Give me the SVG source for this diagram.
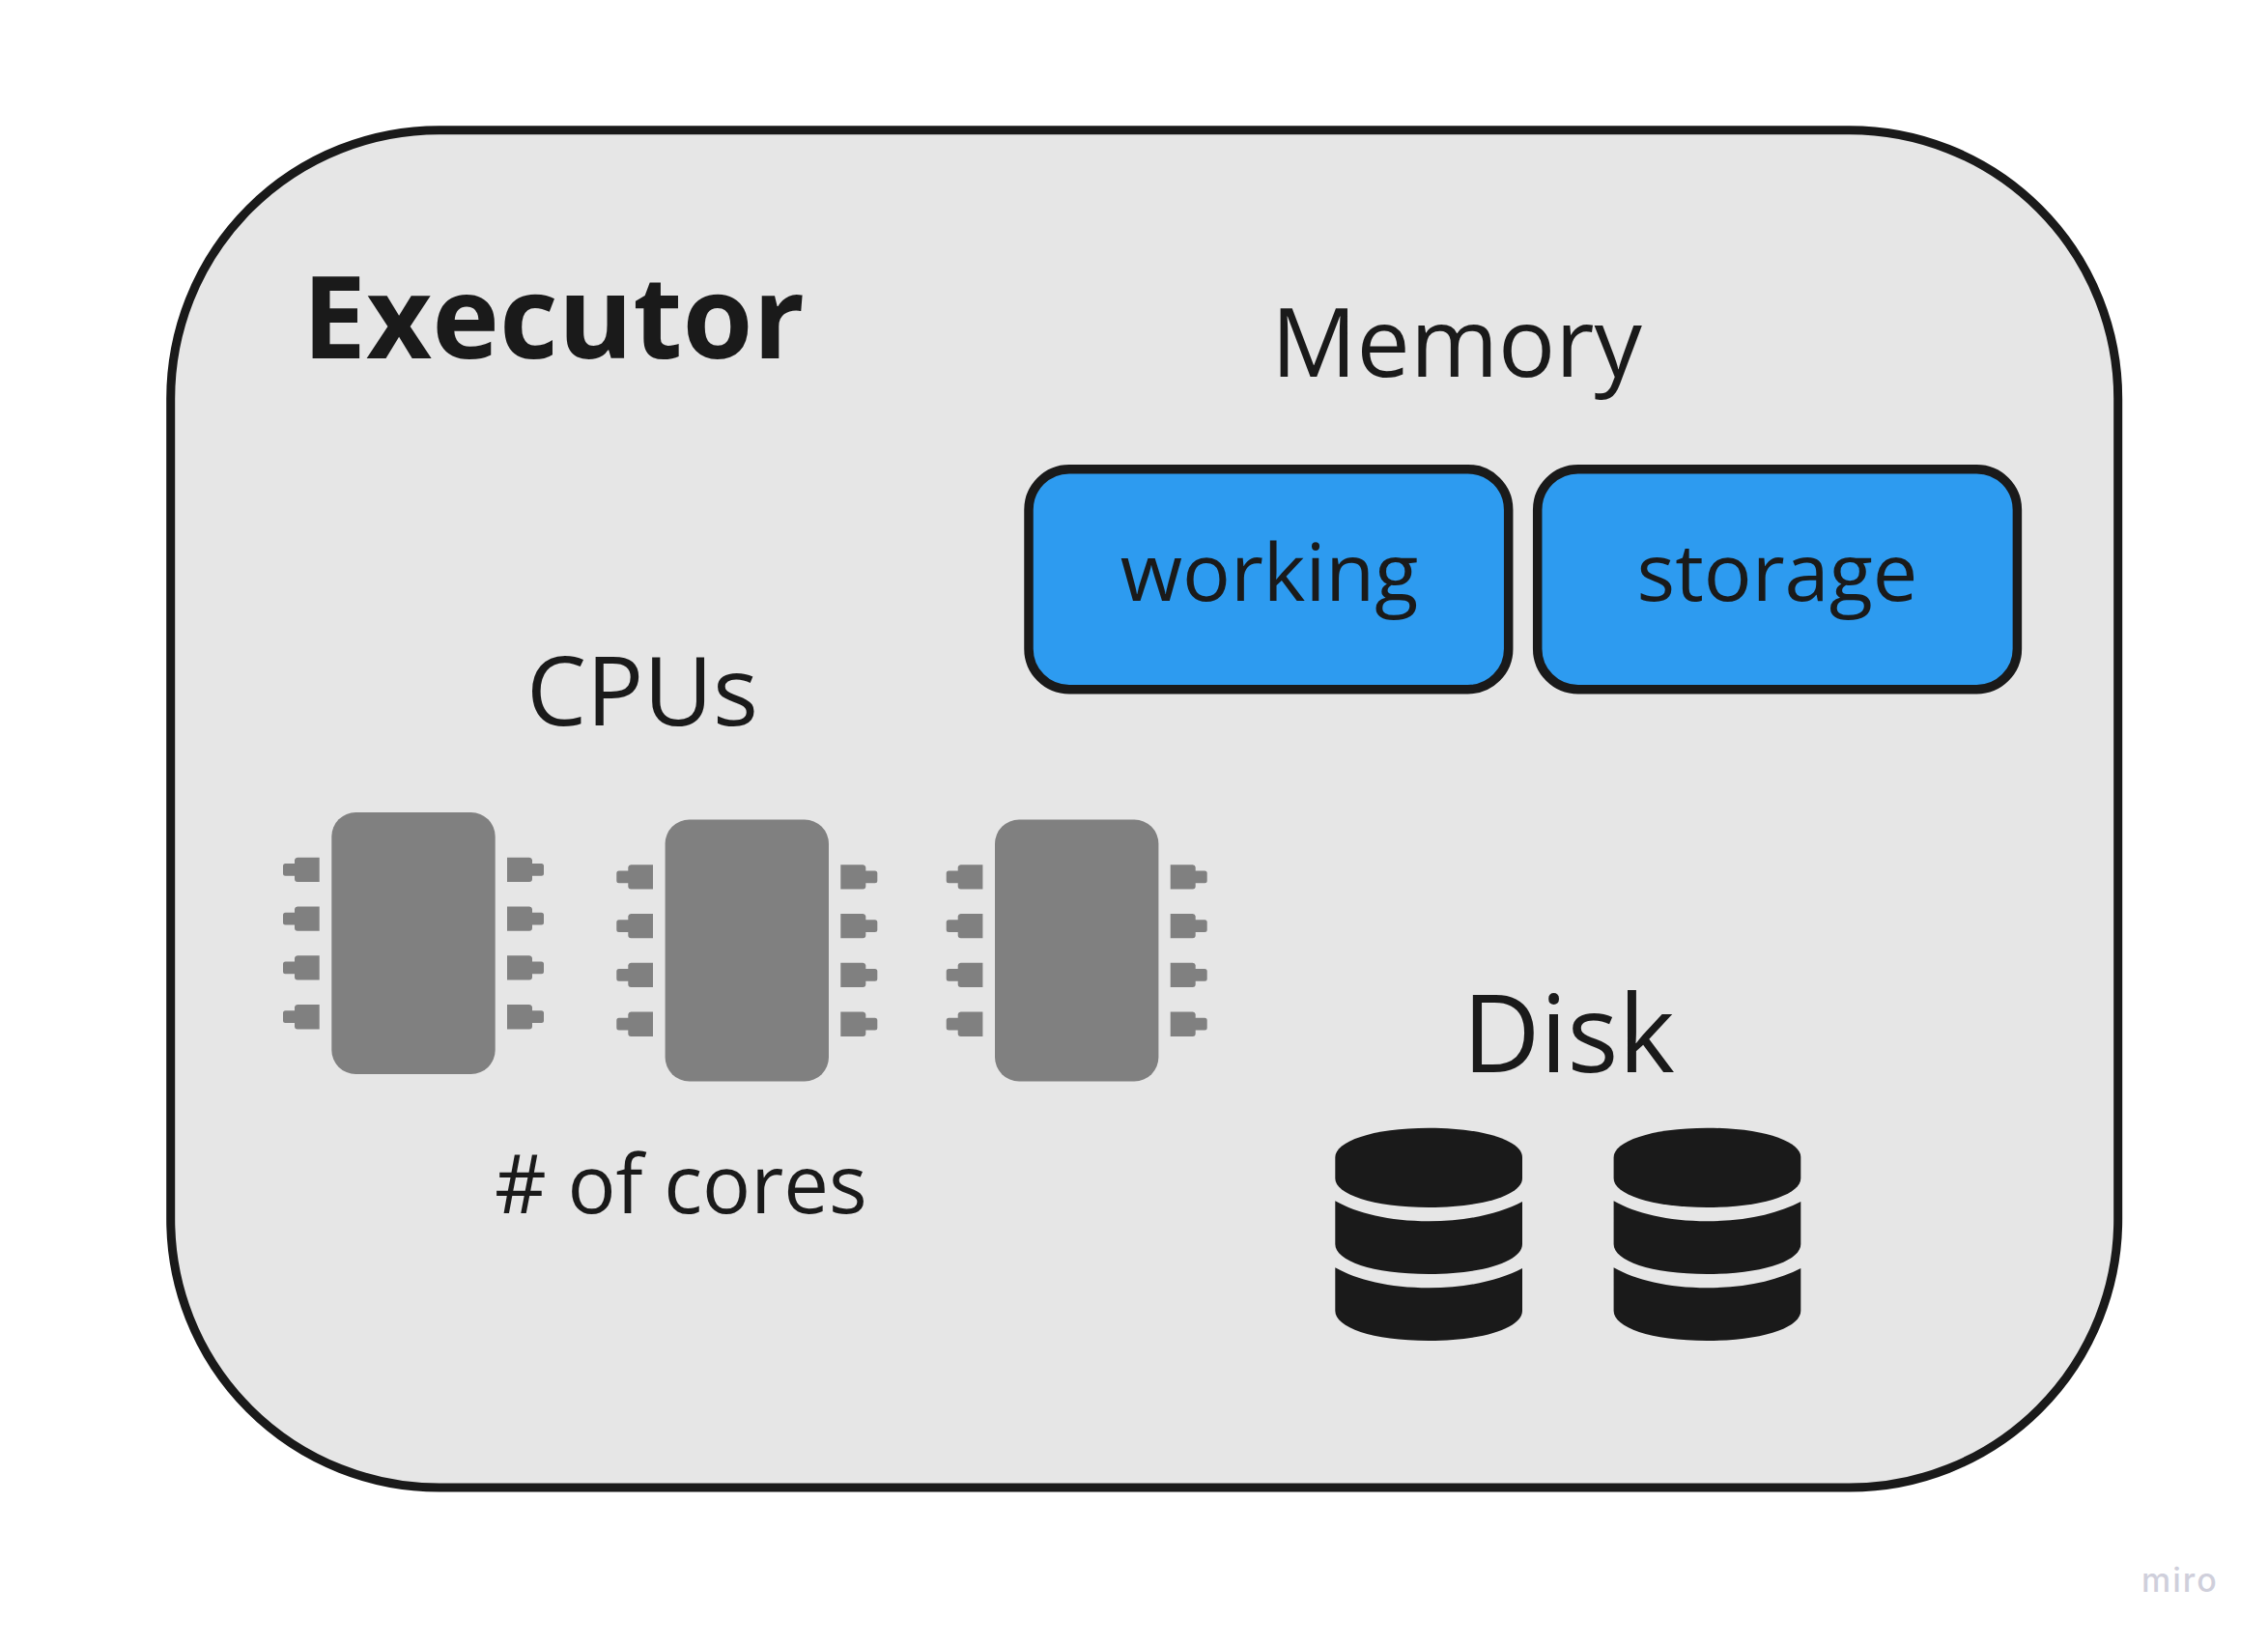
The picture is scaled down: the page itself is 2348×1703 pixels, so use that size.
<svg xmlns="http://www.w3.org/2000/svg" width="2348" height="1703" viewBox="0 0 2348 1703">
<style>
text{font-family:"Open Sans","Noto Sans","Liberation Sans",sans-serif;fill:#1a1a1a}
.t{font-size:98.500px}
.m{font-size:83px}
.box{fill:#2d9bf0;stroke:#1a1a1a;stroke-width:9.500}
.pin{fill:#808080}
.db{fill:#1a1a1a}
</style>
<defs>
<g id="chip">
<rect x="343.300" y="841" width="169.400" height="271" rx="25" fill="#808080"/>
<g class="pin">
<path id="pl" d="M308 887.700h22.700v25.300h-22.700a3 3 0 0 1-3-3v-3.300h-9.500a2.500 2.500 0 0 1-2.500-2.500v-7.800a2.500 2.500 0 0 1 2.500-2.500h9.500v-3.700a3 3 0 0 1 3-2.500z"/>
<use href="#pl" y="50.800"/><use href="#pl" y="101.600"/><use href="#pl" y="152.400"/>
<path id="pr" d="M548 887.700h-23v25.300h23a3 3 0 0 0 3-3v-3.300h9.500a2.500 2.500 0 0 0 2.500-2.500v-7.800a2.500 2.500 0 0 0-2.500-2.500h-9.500v-3.700a3 3 0 0 0-3-2.500z"/>
<use href="#pr" y="50.800"/><use href="#pr" y="101.600"/><use href="#pr" y="152.400"/>
</g>
</g>
<g id="db" class="db">
<path d="M1382.300 1198C1382.300 1182 1420 1167.700 1479.200 1167.700S1576 1182 1576 1198V1220C1576 1236 1538 1250 1479.200 1250S1382.300 1236 1382.300 1220Z"/>
<path d="M1382.300 1243.300C1405 1256 1438 1264.300 1479.200 1264.300S1553 1256 1576 1244V1288C1576 1305 1538 1319 1479.200 1319S1382.300 1305 1382.300 1288Z"/>
<path d="M1382.300 1312.300C1405 1325 1438 1333.300 1479.200 1333.300S1553 1325 1576 1313V1357C1576 1374 1538 1388 1479.200 1388S1382.300 1374 1382.300 1357Z"/>
</g>
</defs>
<rect width="2348" height="1703" fill="#fff"/>
<g id="executor">
<rect x="176.700" y="134.700" width="2016" height="1405.300" rx="278" fill="#e6e6e6" stroke="#1a1a1a" stroke-width="9"/>
<text x="313" y="370.700" font-size="118" font-weight="700">Executor</text>
</g>
<g id="memory"><text class="t" x="1316" y="390">Memory</text></g>
<g id="working"><rect class="box" x="1065" y="485.700" width="496.700" height="228" rx="42"/>
<text class="m" x="1314" y="621.500" text-anchor="middle">working</text></g>
<g id="storage"><rect class="box" x="1591.700" y="485.700" width="496.700" height="228" rx="42"/>
<text class="m" x="1840" y="621.500" text-anchor="middle">storage</text></g>
<g id="cpus"><text class="t" x="545" y="751">CPUs</text></g>
<g id="chip1"><use href="#chip"/></g>
<g id="chip2"><use href="#chip" x="345.300" y="7.500"/></g>
<g id="chip3"><use href="#chip" x="686.700" y="7.500"/></g>
<g id="cores"><text x="512" y="1256" font-size="83.300"># of cores</text></g>
<g id="disk"><text x="1514" y="1110" font-size="111">Disk</text></g>
<g id="disk1"><use href="#db"/></g>
<g id="disk2"><use href="#db" x="288.300"/></g>
<g id="watermark"><text x="2217" y="1648" font-size="34" font-weight="500" letter-spacing="2" style="fill:#cfcfdb;font-family:Inter,'Open Sans',sans-serif">miro</text></g>
<g id="connectors"/>
</svg>
